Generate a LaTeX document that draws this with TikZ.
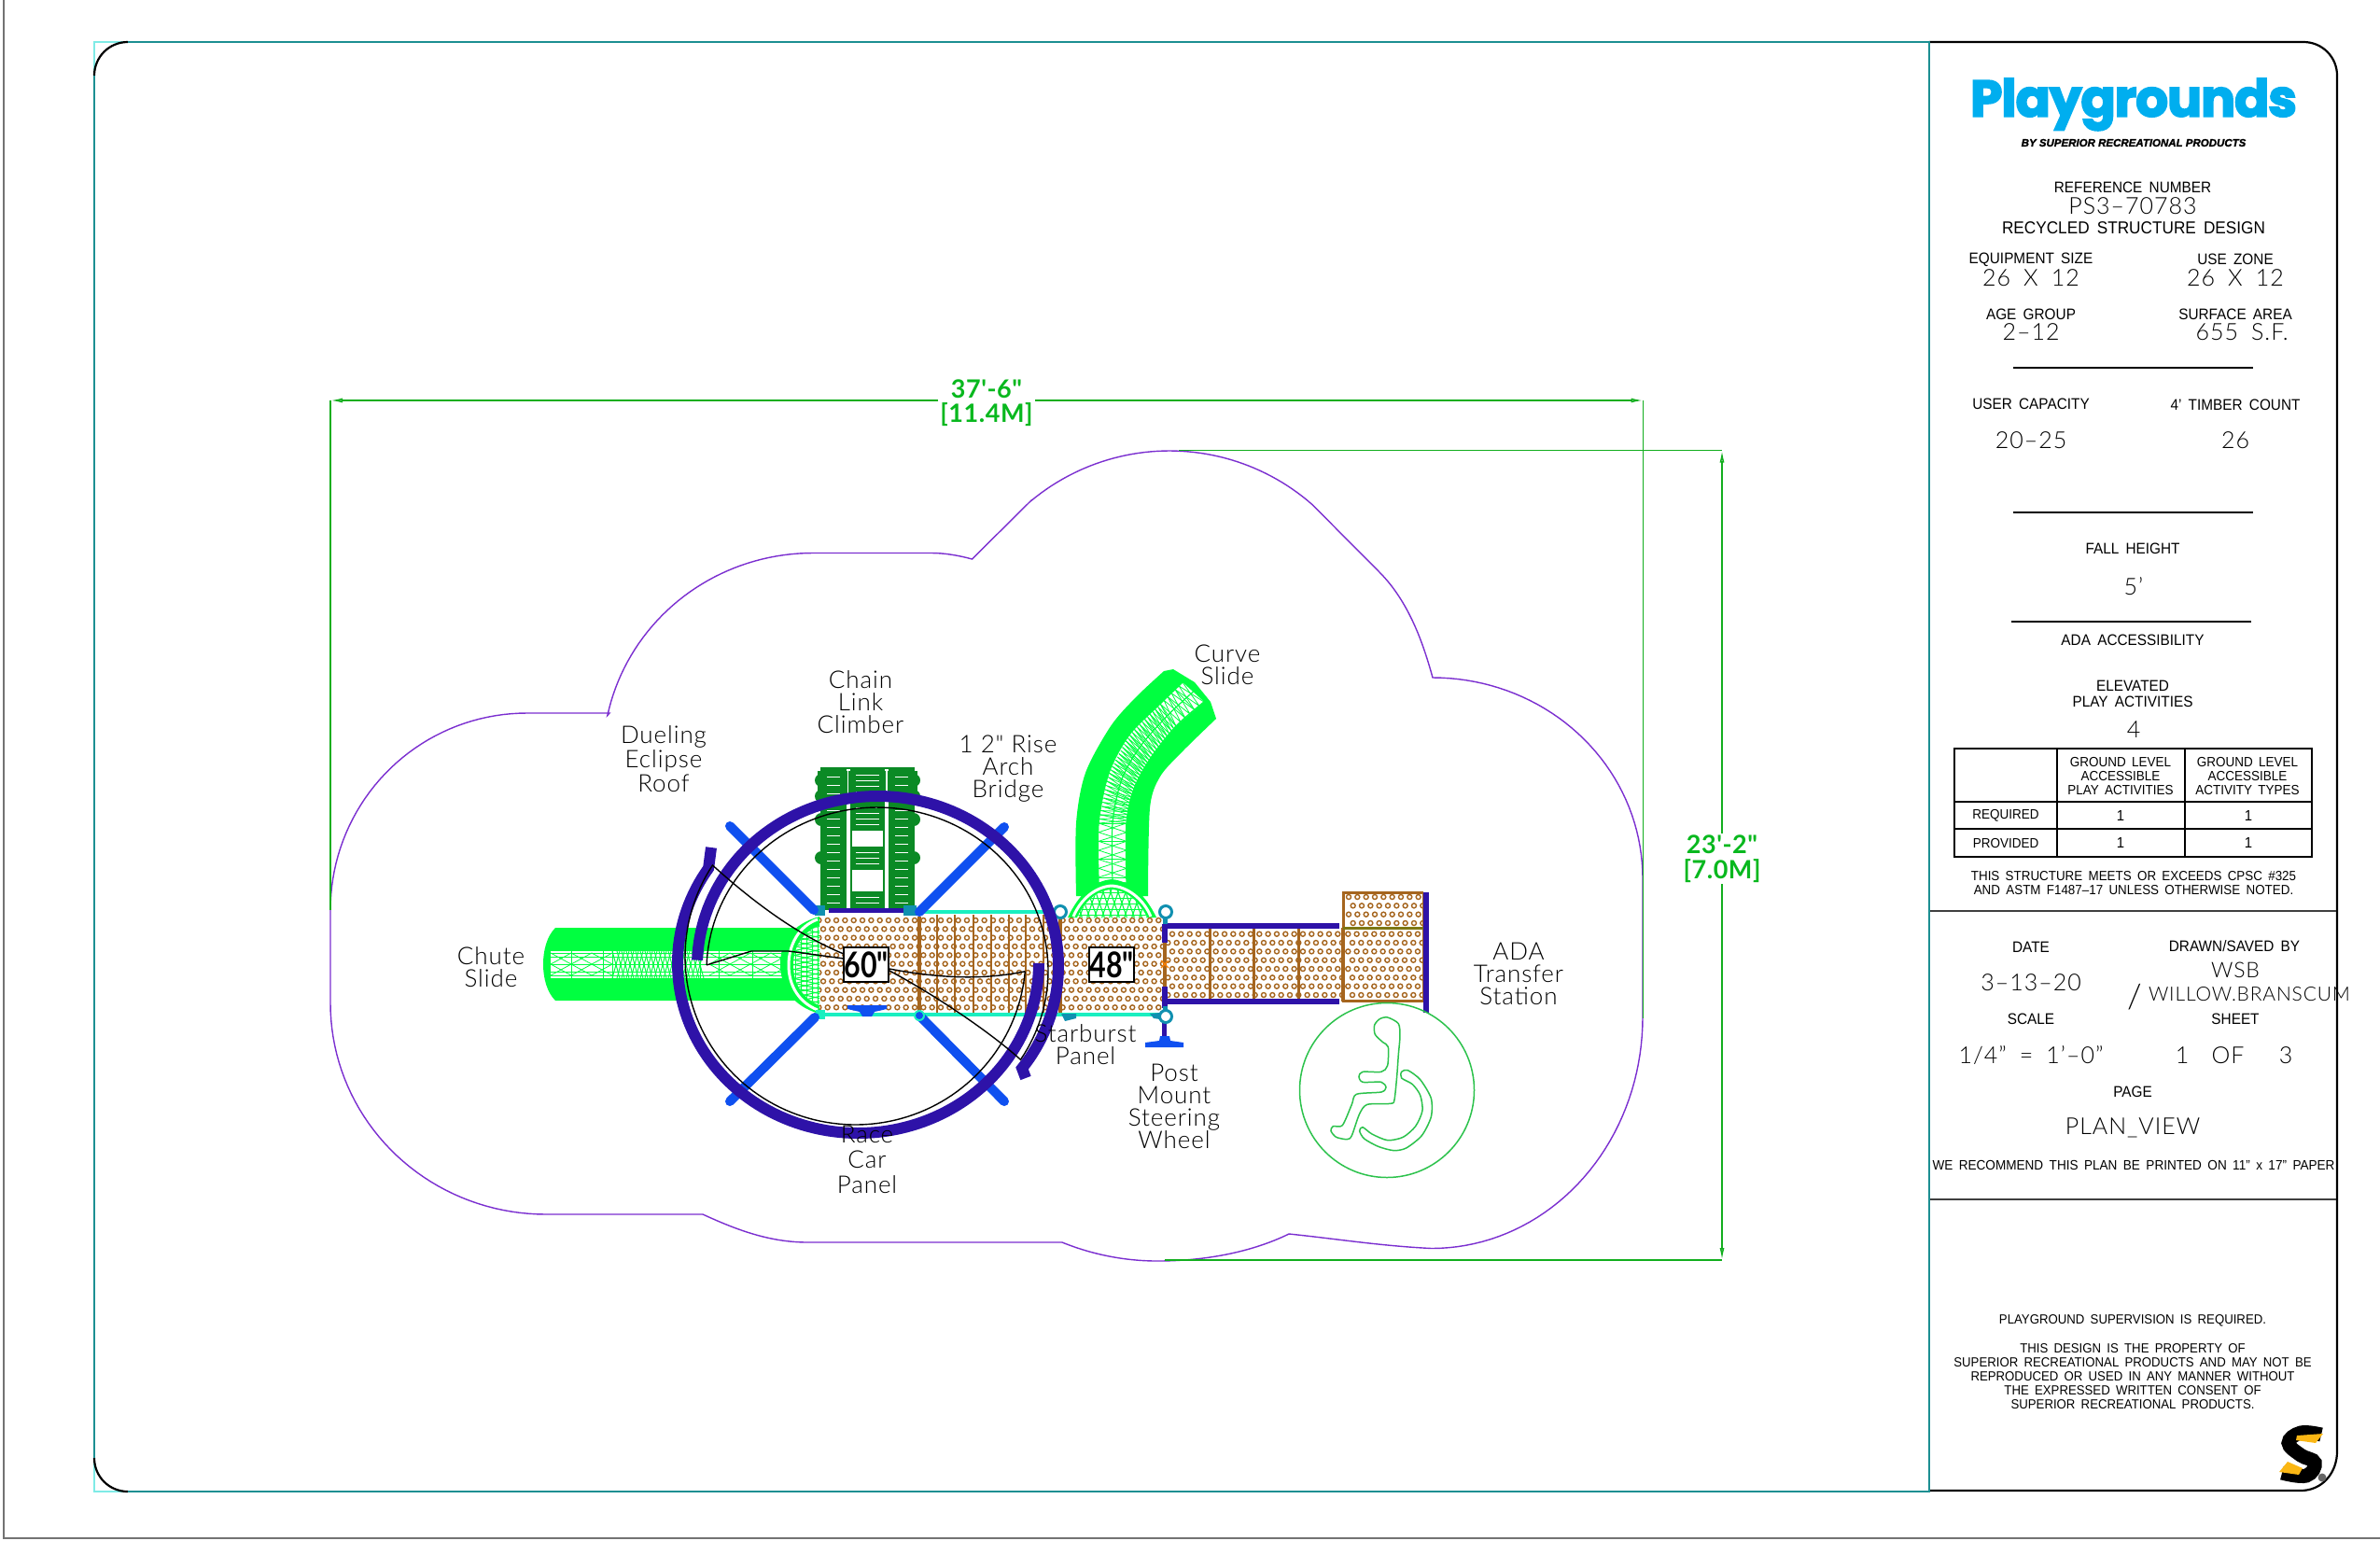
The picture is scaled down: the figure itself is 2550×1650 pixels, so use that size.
\documentclass[tikz,border=0pt]{standalone}
\usepackage{fontspec}
\usetikzlibrary{calc,arrows.meta}
\setmainfont{Liberation Sans}
\newfontfamily\tbf{Liberation Sans}[FakeStretch=0.93,WordSpace=1.7]
\newfontfamily\valf{Lato Light}[LetterSpace=4,WordSpace=1.8]
\newfontfamily\labf{Lato Light}[LetterSpace=3.5]
\newfontfamily\dimf{Lato}[LetterSpace=2]
\newfontfamily\sizef{Lato}[FakeStretch=0.8]
\newfontfamily\logof{Poppins}[FakeBold=3.2,LetterSpace=-2]
\newfontfamily\subf{Liberation Sans}[FakeBold=1.5]
\definecolor{frameT}{HTML}{1C8F92}
\definecolor{frameC}{HTML}{7FEBE6}
\definecolor{cloud}{HTML}{7B2FD0}
\definecolor{dimg}{HTML}{12AE1E}
\definecolor{dimt}{HTML}{08B81E}
\definecolor{slide}{HTML}{00FF40}
\definecolor{climb}{HTML}{0B8A25}
\definecolor{ring}{HTML}{2E12A8}
\definecolor{brace}{HTML}{0F50F0}
\definecolor{brownD}{HTML}{A5651E}
\definecolor{rail}{HTML}{1AEFC0}
\definecolor{post}{HTML}{1090B0}
\definecolor{adag}{HTML}{2CC24C}
\definecolor{logob}{HTML}{00AEEF}
\definecolor{logoy}{HTML}{FBB714}
\tikzset{
  x=1pt,y=-1pt,
  tb/.style={inner sep=0pt,align=center,font=\tbf},
  lab/.style={inner sep=0pt,align=center,font=\labf\fontsize{26}{24}\selectfont,text=black},
  dimlab/.style={inner sep=2pt,align=center,font=\dimf\bfseries\fontsize{27}{26.5}\selectfont,text=dimt},
  dimline/.style={draw=dimg,line width=1.5pt},
  tipline/.style={dimline,-{Latex[open,length=13pt,width=5pt]}},
  cloudline/.style={draw=cloud,line width=1.4pt},
  hole/.style={draw=brownD,line width=1.4pt},
  meshl/.style={draw=slide,line width=.8pt},
  thinblk/.style={draw=black,line width=1.4pt},
  band/.style={draw=ring,line width=12pt},
  bracel/.style={draw=brace,line width=10pt,line cap=round},
  brownl/.style={draw=brownD,line width=2pt},
  brownL/.style={draw=brownD,line width=4pt},
  railb/.style={draw=ring,line width=5.5pt},
  railc/.style={draw=rail,line width=4pt},
  postring/.style={draw=post,fill=white,line width=3pt},
  ruleb/.style={draw=black,line width=1.4pt},
  sizebox/.style={draw=black,fill=white,line width=1.4pt,inner sep=0pt,minimum width=48pt,minimum height=37pt,font=\sizef\bfseries\fontsize{38}{38}\selectfont}
}
\newcommand{\Tx}[5]{\node[tb] (#1) at (#2,#3) {\fontsize{#4}{#4}\selectfont #5};}
\newcommand{\Vx}[5]{\node[tb] (#1) at (#2,#3) {\valf\fontsize{#4}{#4}\selectfont #5};}
\newcommand{\holes}[8]{%
  \begin{scope}
  \clip (#1,#3) rectangle (#2,#4);
  \foreach \r in {0,...,#7}{%
    \pgfmathsetmacro\yy{#6+9.33*\r}
    \pgfmathsetmacro\xo{#5+mod(\r,2)*4.67}
    \foreach \c in {0,...,#8}{%
      \pgfmathsetmacro\xx{\xo+9.33*\c}
      \draw[hole] (\xx,\yy) circle[radius=2.5pt];
    }
  }
  \end{scope}}
\begin{document}
\begin{tikzpicture}
\useasboundingbox (0,0) rectangle (2550,1650);
\fill[white] (0,0) rectangle (2550,1650);
% sheet edge
\draw[black!55,line width=1.5pt] (4,0) -- (4,1648) -- (2550,1648);
% title block and frame
\draw[frameC,line width=1.4pt] (137,45) -- (101,45) -- (101,81);
\draw[frameC,line width=1.4pt] (137,1598) -- (101,1598) -- (101,1562);
\draw[black,line width=2.2pt] (2067,45) -- (2468,45) .. controls (2488,45) and (2504,61) .. (2504,81) -- (2504,1555) .. controls (2504,1578) and (2488,1597) .. (2465,1597) -- (2067,1597);
\draw[black,line width=2.2pt] (101,81) .. controls (101,61) and (117,45) .. (137,45);
\draw[black,line width=2.2pt] (101,1562) .. controls (101,1582) and (117,1598) .. (137,1598);
\draw[frameT,line width=2.2pt] (137,45) -- (2067,45) -- (2067,1598) -- (137,1598);
\draw[frameT,line width=2.2pt] (101,81) -- (101,1562);
\draw[black!75,line width=1.6pt] (2068,976) -- (2503,976);
\draw[black!75,line width=1.6pt] (2068,1285) -- (2503,1285);

% use zone
\draw[cloudline]
  plot[domain=180:90,samples=40,variable=\t] ({564.5+210.5*cos(\t)},{975-211*sin(\t)}) -- (653,764)
  -- plot[domain=168:90,samples=40,variable=\t] ({871+225*cos(\t)},{812-219.5*sin(\t)}) -- (998,592.5)
  .. controls (1012,592.5) and (1027,595) .. (1041.5,599) -- (1105,536)
  -- plot[domain=129.6:48.8,samples=50,variable=\t] ({1253+232*cos(\t)},{715-232*sin(\t)}) -- (1477.5,612.5)
  .. controls (1510,645) and (1525,690) .. (1535,726)
  -- plot[domain=90:0,samples=40,variable=\t] ({1535+225*cos(\t)},{941-215*sin(\t)}) -- (1760,1090)
  -- plot[domain=0:-90,samples=40,variable=\t] ({1534+226*cos(\t)},{1090-247.5*sin(\t)})
  .. controls (1480,1335) and (1430,1327) .. (1381,1322)
  .. controls (1340,1342) and (1290,1351) .. (1240,1351) .. controls (1205,1351) and (1170,1344) .. (1138,1331) -- (865.5,1331)
  .. controls (825,1331) and (790,1318) .. (753,1301) -- (585,1301)
  -- plot[domain=-90:-180,samples=40,variable=\t] ({585+231*cos(\t)},{1075-226*sin(\t)}) -- cycle;

% dimensions
\coordinate (dTL) at (354,429); \coordinate (dTR) at (1760.5,429);
\coordinate (dLb) at (354,975); \coordinate (dRb) at (1760.5,1091);
\coordinate (vT0) at (1263,482.5); \coordinate (vT) at (1845,482.5);
\coordinate (vB0) at (1248,1350); \coordinate (vB) at (1845,1350);
\node[dimlab] (d37) at (1057,431.5) {37'-6"\\{[11.4M]}};
\node[dimlab] (d23) at (1845,920) {23'-2"\\{[7.0M]}};
\draw[tipline] (d37.west |- dTL) -- (dTL);
\draw[tipline] (d37.east |- dTR) -- (dTR);
\draw[dimline] (dTL) -- (dLb);
\draw[dimline] (dTR) -- (dRb);
\draw[dimline] (vT0) -- (vT);
\draw[dimline] (vB0) -- (vB);
\draw[tipline] (d23) -- (vT);
\draw[tipline] (d23) -- (vB);

% chute slide
\fill[slide] (870,994) -- (595,994) .. controls (586,1003) and (582,1018) .. (582,1033) .. controls (582,1048) and (586,1063) .. (595,1072) -- (870,1072) -- cycle;
\fill[white] (590,1019) rectangle (845,1048);
\begin{scope}
\clip (590,1019) rectangle (845,1048);
\foreach \yy in {1021,1025,1033,1041,1045}{\draw[meshl] (590,\yy) -- (845,\yy);}
\foreach \xx in {590,612,634,760,782,804,826}{\draw[meshl] (\xx,1021) -- (\xx+22,1033) -- (\xx,1045);\draw[meshl] (\xx,1033) -- (\xx+22,1021);\draw[meshl] (\xx,1033) -- (\xx+22,1045);}
\foreach \xx in {656,661,...,750}{\draw[meshl,line width=1pt] (\xx,1019) -- (\xx+8,1048);\draw[meshl,line width=1pt] (\xx+8,1019) -- (\xx,1048);}
\end{scope}
\foreach \xx in {612,646,656,750,770,806}{\draw[meshl] (\xx,1019) -- (\xx,1048);}
% chute flange & dome
\fill[slide] (878,982) .. controls (848,990) and (836,1010) .. (836,1033) .. controls (836,1056) and (848,1078) .. (878,1086) -- cycle;
\begin{scope}
\path[clip] (878,992) .. controls (860,998) and (850,1015) .. (850,1034) .. controls (850,1053) and (860,1070) .. (878,1077) -- cycle;
\fill[white] (845,985) rectangle (880,1085);
\foreach \yy in {992,997,...,1080}{\draw[meshl,line width=1.1pt] (845,\yy) -- (880,\yy+8);\draw[meshl,line width=1.1pt] (845,\yy+8) -- (880,\yy);}
\foreach \xx in {852,858,...,878}{\draw[meshl] (\xx,985) -- (\xx,1085);}
\end{scope}
\draw[white,line width=3pt] (876,985) .. controls (856,992) and (845,1012) .. (845,1034) .. controls (845,1056) and (856,1074) .. (876,1082);

% curve slide
\fill[slide] plot[smooth,tension=.5] coordinates {(1153,960) (1153,882) (1163,828) (1190,778) (1217,747) (1247,719)} -- (1257,717)
  -- (1280,731) -- (1297,752) -- (1303,770)
  -- plot[smooth,tension=.5] coordinates {(1303,770) (1267,805) (1243,832) (1232,866) (1230,960)} -- cycle;
\fill[white] plot[smooth,tension=.5] coordinates {(1177,945) (1177,882) (1188,828) (1210,787) (1243,754) (1267,731)} -- (1290,752) -- plot[smooth,tension=.5] coordinates {(1260,778) (1233,812) (1215,845) (1207,882) (1207,945)} -- cycle;
\foreach \ax/\ay/\bx/\by/\cx/\cy/\dx/\dy/\st in {1177/940/1207/940/1177/882/1207/882/.33334,
   1177/882/1207/882/1188/828/1215/845/.16667,
   1188/828/1215/845/1210/787/1233/812/.16667,
   1210/787/1233/812/1243/754/1260/778/.16667,
   1243/754/1260/778/1267/731/1290/752/.33334}{
  \pgfmathsetmacro\nn{int(round(1/\st)-1)}
  \foreach \i in {0,...,\nn}{
    \pgfmathsetmacro\ta{\i*\st}\pgfmathsetmacro\tb{(\i+.5)*\st}\pgfmathsetmacro\tc{(\i+1)*\st}
    \draw[meshl] ($(\ax,\ay)!\ta!(\cx,\cy)$) -- ($(\bx,\by)!\ta!(\dx,\dy)$);
    \draw[meshl] ($(\ax,\ay)!\ta!(\cx,\cy)$) -- ($(\bx,\by)!\tb!(\dx,\dy)$) -- ($(\ax,\ay)!\tc!(\cx,\cy)$);
    \draw[meshl] ($(\bx,\by)!\ta!(\dx,\dy)$) -- ($(\ax,\ay)!\tb!(\cx,\cy)$) -- ($(\bx,\by)!\tc!(\dx,\dy)$);
  }
}
\draw[meshl,line width=1.2pt] plot[smooth,tension=.5] coordinates {(1192,945) (1192,882) (1201.5,836) (1221.5,800) (1251.5,766) (1278.5,741)};
\draw[meshl,line width=1.4pt] plot[smooth,tension=.5] coordinates {(1177,945) (1177,882) (1188,828) (1210,787) (1243,754) (1267,731)};
\draw[meshl,line width=1.4pt] plot[smooth,tension=.5] coordinates {(1207,945) (1207,882) (1215,845) (1233,812) (1260,778) (1290,752)};
% curve slide flange and dome
\fill[slide] (1144,983) .. controls (1155,960) and (1170,944) .. (1191,942) .. controls (1212,944) and (1228,960) .. (1239,983) -- cycle;
\begin{scope}
\path[clip] (1154,983) .. controls (1162,966) and (1175,954) .. (1191,953) .. controls (1207,954) and (1221,966) .. (1229,983) -- cycle;
\fill[white] (1150,950) rectangle (1235,985);
\foreach \xx in {1148,1156,...,1232}{\draw[meshl,line width=1.1pt] (\xx,950) -- (\xx+12,985);\draw[meshl,line width=1.1pt] (\xx+12,950) -- (\xx,985);}
\foreach \yy in {956,962,...,984}{\draw[meshl] (1150,\yy) -- (1235,\yy);}
\end{scope}
\draw[white,line width=3pt] (1150,982) .. controls (1158,963) and (1174,950) .. (1191,949) .. controls (1208,950) and (1225,963) .. (1233,982);

% climber
\fill[climb] (879,823) rectangle (907,975);
\fill[climb] (952,823) rectangle (980,975);
\foreach \yy in {836,853,878,919}{
  \fill[climb] (880,\yy) circle[radius=7pt];
  \fill[climb] (979,\yy) circle[radius=7pt];
}
\fill[climb] (876,826) rectangle (983,856);
\foreach \yy in {832,841,...,973}{
  \draw[white,line width=1pt] (886,\yy) -- (900,\yy);
  \draw[white,line width=1pt] (959,\yy) -- (973,\yy);
}
\draw[white,line width=1.6pt] (908.5,823) -- (908.5,975);
\draw[white,line width=1.6pt] (950,823) -- (950,975);
\draw[climb,line width=1.6pt] (912,823) -- (912,975);
\draw[climb,line width=1.6pt] (947,823) -- (947,975);
\fill[climb] (912,824) rectangle (947,853);
\fill[climb] (912,859) rectangle (947,890);
\fill[climb] (912,907) rectangle (947,932);
\fill[climb] (912,955) rectangle (947,973);
\foreach \yy in {830,836,842,848,865,871,877,883,913,919,925,961,967}{
  \draw[white,line width=.8pt] (917,\yy) -- (942,\yy);
}
\draw[climb,line width=1.2pt] (879,823) -- (980,823);

% decks
\holes{878}{1247}{982}{1085}{877.37}{986}{10}{40}
\foreach \xx in {1004,1023,1043,1062,1081,1099,1118}{\draw[brownl] (\xx,980) -- (\xx,1087);}
\draw[brownL] (985,982) -- (985,1086);
\draw[brownL] (1136,982) -- (1136,1086);
\draw[railc] (985,977) -- (1137,977);
\draw[railc] (878,1087) -- (1247,1087);
\draw[railb] (888,975.5) -- (975,975.5);
\fill[post] (873,970) rectangle (884,981);
\fill[post] (968,970) rectangle (982,981);
\fill[rail] (874,1082) rectangle (884,1092);
\fill[post] (1137,1086) -- (1153,1086) -- (1153,1091) -- (1141,1094) -- cycle;
% race car panel
\fill[brace] (908,1077) -- (950,1077) -- (950,1081) -- (937,1084) -- (934,1089) -- (924,1089) -- (921,1084) -- (908,1081) -- cycle;
% ramp
\holes{1250}{1438}{996}{1072}{1246.67}{1000.7}{7}{21}
\foreach \xx in {1296,1343,1391,1438}{\draw[brownL,line width=3pt] (\xx,994) -- (\xx,1073);}
\draw[railb] (1250,992) -- (1435,992);
\draw[railb] (1250,1073) -- (1435,1073);
% transfer station
\holes{1440}{1525}{958}{993}{1445}{961}{3}{9}
\holes{1440}{1525}{996}{1071}{1444.3}{1000.7}{7}{9}
\draw[draw=brownD,line width=3pt] (1439,994) -- (1439,956.5) -- (1525,956.5);
\draw[draw=brownD,line width=3pt] (1439,994) -- (1439,1072) -- (1525,1072);
\draw[draw=brownD,line width=2pt] (1525,956) -- (1525,1072);
\draw[draw=olive!85!black,line width=3pt] (1439,994) -- (1525,994);
\draw[railb] (1528,956) -- (1528,1085);
% posts and wheel
\draw[brownL] (1248,1010) -- (1248,1057);
\draw[railb] (1248,990) -- (1248,1010);
\draw[railb] (1248,1057) -- (1248,1080);
\draw[draw=orange,line width=1.3pt] (1244,1029) -- (1252,1037) (1252,1029) -- (1244,1037);
\draw[railb] (1247.5,1090) -- (1247.5,1112);
\fill[brace] (1227,1122) -- (1227,1117) -- (1242,1115) -- (1243,1110) -- (1253,1110) -- (1254,1115) -- (1268,1117) -- (1268,1122) -- cycle;
\fill[post] (1232,1086) -- (1243,1085) -- (1243,1092) -- (1236,1091) -- cycle;
\draw[post,line width=5pt] (1248,984) -- (1248,990);
\draw[post,line width=5pt] (1248,1078) -- (1248,1084);
\draw[postring] (1136,977) circle[radius=6.5pt];
\draw[postring] (1249,977) circle[radius=6.5pt];
\draw[postring] (1249,1089) circle[radius=6.5pt];

% braces
\draw[bracel] (782,885) -- (872,975);
\draw[bracel] (782,1180) -- (873,1090);
\draw[bracel] (1076,886) -- (985,977);
\draw[bracel] (1076,1180) -- (985,1088);
\fill[rail] (985,1088) circle[radius=6pt];
\fill[brace] (985,1088) circle[radius=4pt];

% dueling eclipse roof
\draw[band] plot[domain=178:-37,samples=110,variable=\t] ({940.5+193.5*cos(\t)},{1035-182*sin(\t)}) -- (1099,1155);
\draw[band] plot[domain=0:-214,samples=110,variable=\t] ({919.5+193.5*cos(\t)},{1032-182*sin(\t)}) -- (762,908);
\coordinate (kA) at ({916.5+182.5*cos(147)},{1025-180*sin(147)});
\coordinate (kB) at ({940+183*cos(-33)},{1040-175*sin(-33)});
\coordinate (eA) at ({916.5+182.5*cos(-5)},{1025-180*sin(-5)});
\coordinate (eB) at ({940+183*cos(178)},{1040-175*sin(178)});
\draw[thinblk] plot[domain=-5:-213,samples=100,variable=\t] ({916.5+182.5*cos(\t)},{1025-180*sin(\t)})
  .. controls (800,960) and (850,1000) .. (904,1022);
\draw[thinblk] (eA) .. controls (1050,1051) and (1000,1047) .. (953,1038);
\draw[thinblk] plot[domain=178:-33,samples=100,variable=\t] ({940+183*cos(\t)},{1040-175*sin(\t)})
  .. controls (1060,1105) and (1000,1065) .. (953,1040);
\draw[thinblk] (eB) -- (805,1019) -- (845,1019) -- (904,1027);
\node[sizebox] (h60) at (928,1033.5) {60"};
\node[sizebox] (h48) at (1191,1033.5) {48"};

% wheelchair
\draw[adag,line width=1.5pt] (1486,1168) circle[radius=93.5pt];
\begin{scope}[shift={(1200,940)},x=.3333pt,y=-.3333pt]
\draw[adag,line width=1.5pt] plot[smooth cycle,tension=.45] coordinates {(860,450) (895,470) (900,510) (895,570) (890,640) (882,715) (870,727) (795,730) (770,760) (745,830) (730,842) (695,835) (678,815) (685,800) (715,797) (745,730) (760,697) (840,690) (855,675) (840,658) (780,658) (768,640) (780,625) (840,625) (860,605) (862,545) (845,530) (820,505) (818,475) (835,455)};
\draw[adag,line width=1.5pt] plot[smooth cycle,tension=.45] coordinates {(905,625) (925,620) (965,650) (1000,710) (1000,770) (970,830) (920,870) (880,878) (830,865) (785,840) (770,815) (780,803) (810,825) (860,845) (910,835) (950,800) (972,750) (965,700) (940,665) (905,645)};
\end{scope}

% labels
\node[lab] (lbRoof) at (711,813) {Dueling\\[2pt]Eclipse\\[2pt]Roof};
\node[lab] (lbClimb) at (922,752) {Chain\\Link\\Climber};
\node[lab] (lbArch) at (1080,824) {1 2" Rise\\Arch\\Bridge};
\node[lab] (lbChute) at (526,1036) {Chute\\Slide};
\node[lab] (lbRace) at (929,1242) {Race\\[3pt]Car\\[3pt]Panel};
\node[lab] (lbStar) at (1163,1119) {Starburst\\Panel};
\node[lab] (lbPost) at (1258,1185) {Post\\Mount\\Steering\\Wheel};
\node[lab] (lbCurve) at (1315,712) {Curve\\Slide};
\node[lab] (lbAda) at (1627,1043) {ADA\\Transfer\\Station};

% logo
\node[inner sep=0pt,text=logob,font=\logof\bfseries\fontsize{55}{55}\selectfont] (logo) at (2286,112) {Playgrounds};
\node[inner sep=0pt,font=\subf\bfseries\itshape\fontsize{11.5}{12}\selectfont] (logosub) at (2286,153) {BY SUPERIOR RECREATIONAL PRODUCTS};
% title block text
\Tx{t1}{2285}{201}{16.5}{REFERENCE NUMBER}
\Vx{t2}{2285}{221}{25}{PS3–70783}
\Tx{t3}{2286}{244.5}{18.5}{RECYCLED STRUCTURE DESIGN}
\Tx{t4}{2176}{278}{16.5}{EQUIPMENT SIZE}
\Tx{t5}{2395}{278}{16.5}{USE ZONE}
\Vx{t6}{2176}{298}{25}{26 X 12}
\Vx{t7}{2395}{298}{25}{26 X 12}
\Tx{t8}{2176}{337}{16.5}{AGE GROUP}
\Tx{t9}{2395}{337}{16.5}{SURFACE AREA}
\Vx{t10}{2176}{356}{25}{2–12}
\Vx{t11}{2402}{356}{25}{655 S.F.}
\coordinate (r1a) at (2157,394); \coordinate (r1b) at (2414,394);
\draw[ruleb] (r1a) -- (r1b);
\Tx{t12}{2176}{433}{16.5}{USER CAPACITY}
\Tx{t13}{2395}{434}{16.5}{4’ TIMBER COUNT}
\Vx{t14}{2176}{472}{25}{20–25}
\Vx{t15}{2395}{472}{25}{26}
\coordinate (r2a) at (2157,549); \coordinate (r2b) at (2414,549);
\draw[ruleb] (r2a) -- (r2b);
\Tx{t16}{2285}{588}{16.5}{FALL HEIGHT}
\Vx{t17}{2286}{628}{25}{5’}
\coordinate (r3a) at (2155,666); \coordinate (r3b) at (2412,666);
\draw[ruleb] (r3a) -- (r3b);
\Tx{t18}{2285}{686}{16.5}{ADA ACCESSIBILITY}
\Tx{t19}{2285}{735}{16.5}{ELEVATED}
\Tx{t20}{2285}{752}{16.5}{PLAY ACTIVITIES}
\Vx{t21}{2286}{782}{25}{4}
% table
\draw[black,line width=1.3pt] (2094,802) rectangle (2477,918);
\draw[black,line width=1.3pt] (2094,859) -- (2477,859) (2094,888) -- (2477,888);
\draw[black,line width=1.3pt] (2204,802) -- (2204,918) (2341,802) -- (2341,918);
\Tx{c1}{2272}{816}{14.5}{GROUND LEVEL}
\Tx{c2}{2272}{831}{14.5}{ACCESSIBLE}
\Tx{c3}{2272}{846}{14.5}{PLAY ACTIVITIES}
\Tx{c4}{2408}{816}{14.5}{GROUND LEVEL}
\Tx{c5}{2408}{831}{14.5}{ACCESSIBLE}
\Tx{c6}{2408}{846}{14.5}{ACTIVITY TYPES}
\Tx{c7}{2149}{874}{14.5}{REQUIRED}
\Tx{c8}{2272}{874}{16}{1}
\Tx{c9}{2409}{874}{16}{1}
\Tx{c10}{2149}{903}{14.5}{PROVIDED}
\Tx{c11}{2272}{903}{16}{1}
\Tx{c12}{2409}{903}{16}{1}
\Tx{t22}{2286}{939}{14.4}{THIS STRUCTURE MEETS OR EXCEEDS CPSC \#325}
\Tx{t23}{2286}{954}{14.4}{AND ASTM F1487–17 UNLESS OTHERWISE NOTED.}
\Tx{t24}{2176}{1015}{16.5}{DATE}
\Tx{t25}{2394}{1014}{16.5}{DRAWN/SAVED BY}
\Vx{t26}{2395}{1039}{23}{WSB}
\Vx{t27}{2176}{1053}{25}{3–13–20}
\Vx{t28}{2287}{1068}{36}{/}
\Vx{t29}{2410}{1065}{21}{WILLOW.BRANSCUM}
\Tx{t30}{2176}{1092}{16.5}{SCALE}
\Tx{t31}{2395}{1092}{16.5}{SHEET}
\Vx{t32}{2176}{1131}{25}{1/4” = 1’–0”}
\Vx{t33}{2338}{1131}{25}{1}
\Vx{t34}{2387}{1131}{25}{OF}
\Vx{t35}{2449}{1131}{25}{3}
\Tx{t36}{2285}{1170}{16.5}{PAGE}
\Vx{t37}{2285}{1208}{25}{PLAN\_VIEW}
\Tx{t38}{2286}{1248}{14.6}{WE RECOMMEND THIS PLAN BE PRINTED ON 11” x 17” PAPER}
\Tx{t39}{2285}{1415}{14.2}{PLAYGROUND SUPERVISION IS REQUIRED.}
\Tx{t40}{2285}{1445}{14.2}{THIS DESIGN IS THE PROPERTY OF}
\Tx{t41}{2285}{1460}{14.2}{SUPERIOR RECREATIONAL PRODUCTS AND MAY NOT BE}
\Tx{t42}{2285}{1475}{14.2}{REPRODUCED OR USED IN ANY MANNER WITHOUT}
\Tx{t43}{2285}{1490}{14.2}{THE EXPRESSED WRITTEN CONSENT OF}
\Tx{t44}{2285}{1505}{14.2}{SUPERIOR RECREATIONAL PRODUCTS.}
% S logo
\draw[black,line width=15pt] plot[smooth,tension=.7] coordinates {(2487,1537) (2465,1535) (2452,1546) (2465,1559) (2480,1567) (2471,1581) (2445,1578)};
\fill[logoy] (2461,1538) -- (2489,1536) -- (2481,1546) -- (2460,1543) -- cycle;
\fill[logoy] (2442,1577) -- (2451,1566) -- (2467,1573) -- (2463,1580) -- cycle;
\fill[black!60] (2488,1583) circle[radius=4.5pt];
\end{tikzpicture}
\end{document}
